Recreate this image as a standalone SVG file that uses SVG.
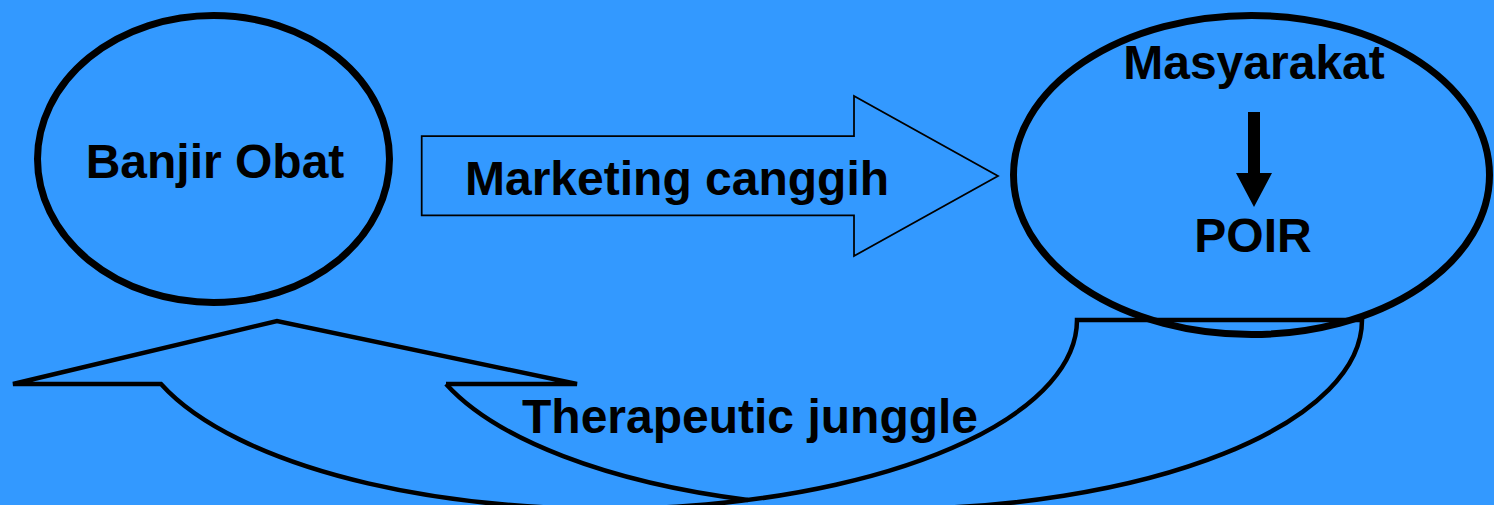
<svg xmlns="http://www.w3.org/2000/svg" width="1494" height="505" viewBox="0 0 1494 505">
  <style>
    .oval { fill: none; stroke: #000; stroke-width: 7; }
    .label { font-family: "Liberation Sans", Arial, sans-serif; font-weight: bold; font-size: 48px; fill: #000; }
    .block { fill: none; stroke: #000; stroke-width: 1.75; stroke-linejoin: miter; }
    .band { fill: none; stroke: #000; stroke-width: 4.5; stroke-linejoin: miter; }
  </style>

  <!-- backdrop -->
  <rect x="0" y="0" width="1494" height="505" fill="#3399FF"/>

  <!-- node: flood of drugs -->
  <g id="node-banjir-obat">
    <ellipse class="oval" cx="213.5" cy="159" rx="176" ry="143.5"/>
    <text class="label" x="215" y="178" text-anchor="middle">Banjir Obat</text>
  </g>

  <!-- node: society / POIR -->
  <g id="node-masyarakat">
    <ellipse class="oval" cx="1251.5" cy="175" rx="238" ry="159.5"/>
    <text class="label" x="1254" y="79" text-anchor="middle">Masyarakat</text>
    <text class="label" x="1253" y="252" text-anchor="middle">POIR</text>
  </g>

  <g id="connectors">
    <!-- block arrow: sophisticated marketing -->
    <g id="edge-marketing">
      <polygon class="block" points="421.7,136 854,136 854,96 998,176 854,256 854,215.3 421.7,215.3"/>
      <text class="label" x="465" y="195">Marketing canggih</text>
    </g>

    <!-- small solid arrow inside the society oval -->
    <polygon id="edge-masyarakat-poir" fill="#000" points="1248,112 1260,112 1260,173 1272,173 1254,207 1236,173 1248,173"/>

    <!-- curved ribbon arrow returning to the left oval -->
    <g id="edge-therapeutic">
      <path class="band" d="M446,384 L577,384 L277,321 L13,384 L161,384 A472,189 0 0 0 1077,320 L1362,320 A472,189 0 0 1 890,509"/>
      <path class="band" d="M446,384 A472,189 0 0 0 748,500"/>
      <text class="label" x="522" y="433">Therapeutic junggle</text>
    </g>
  </g>
</svg>
